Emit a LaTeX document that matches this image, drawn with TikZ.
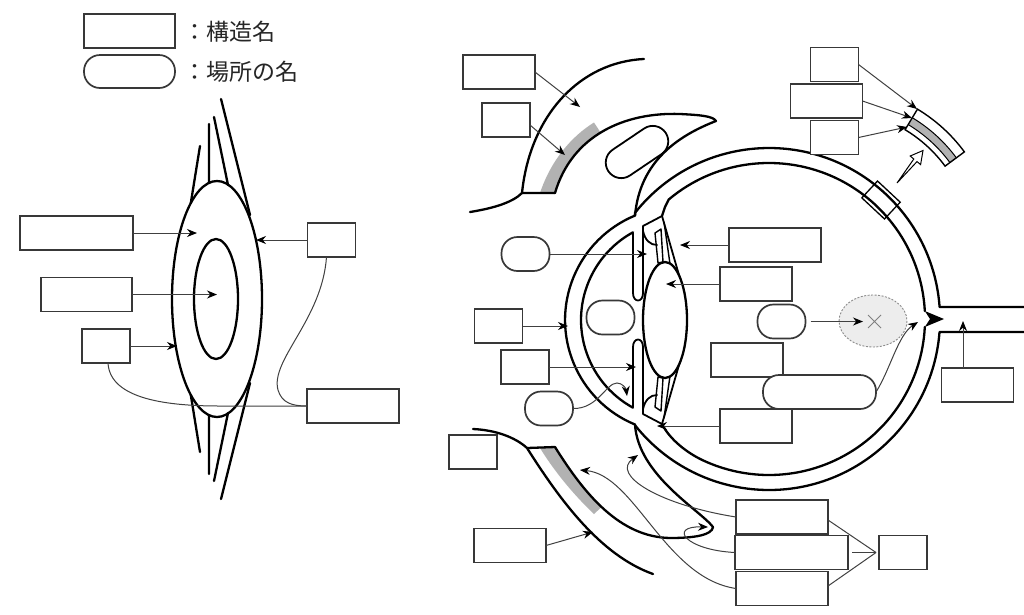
\documentclass[tikz,border=0pt]{standalone}
\usepackage{fontspec}
\newfontfamily\jpfont{Noto Sans CJK JP}
\usetikzlibrary{arrows.meta,calc}
\newcommand\myciliary{%
  \draw[med] (633,233) -- (633,293) .. controls (633,303) and (643,303) .. (643,293) -- (643,226) -- (662,216);
  \draw[med] (643,231) .. controls (645,240) and (650,245) .. (657,245);
  \draw[med,line width=1.4pt] (655,233) -- (661,229) -- (663,262) -- (658,263) -- cycle;
  \draw[med,line width=1.4pt] (664,222) -- (670,264);
  \draw[med] (662,216) -- (685,296);
}
\begin{document}
\begin{tikzpicture}[x=1pt,y=-1pt,
  thk/.style={line width=2.3pt,draw=black,line cap=round,line join=round},
  med/.style={line width=1.8pt,draw=black,line cap=round,line join=round},
  conn/.style={line width=1pt,draw=black!75},
  arr/.style={conn,-{Stealth[length=10pt,width=8pt,color=black]}},
  box/.style={draw=black!78,line width=1.7pt,fill=white,inner sep=0pt,outer sep=0pt,minimum height=34pt},
  rbox/.style={box,rounded corners=16pt},
  sm/.style={box,minimum width=48pt},
  md/.style={box,minimum width=72pt},
  lg/.style={box,minimum width=92pt},
  xl/.style={box,minimum width=113pt},
  jp/.style={font=\jpfont\fontsize{23pt}{23pt}\selectfont,inner sep=0pt,text=black!85},
]
\fill[white] (0,0) rectangle (1024,614);
\useasboundingbox (0,0) rectangle (1024,614);

% ---------- legend ----------
\node[box,minimum width=91pt] (leg1) at (129.5,31) {};
\node[rbox,minimum width=91pt,minimum height=33pt] (leg2) at (129.5,71.5) {};
\node[jp,anchor=west] (t1) at (183,32) {：構造名};
\node[jp,anchor=west] (t2) at (183,72) {：場所の名};

% ---------- left lens diagram ----------
\draw[thk] (217,299) ellipse[x radius=45,y radius=118];
\draw[thk] (216,299) ellipse[x radius=22,y radius=60];
\draw[thk] (200,146) -- (190.8,203) (209,124) -- (209,183) (214,117) -- (228,185) (221,99) -- (250,215);
\draw[thk] (200,452) -- (190.8,395) (209,474) -- (209,415) (214,481) -- (228,413) (221,499) -- (250,383);

\node[box,minimum width=113pt] (L1) at (76.5,233) {};
\node[box,minimum width=91pt] (L2) at (86.5,294.5) {};
\node[sm] (L3) at (106,346) {};
\node[sm] (L4) at (331.5,240) {};
\node[lg] (L5) at (353,406) {};
\coordinate (la1) at (197,233);
\coordinate (la2) at (217,294.5);
\coordinate (la3) at (177,346);
\coordinate (la4) at (256,240);
\draw[arr] (L1.east) -- (la1);
\draw[arr] (L2.east) -- (la2);
\draw[arr] (L3.east) -- (la3);
\draw[arr] (L4.west) -- (la4);
\draw[conn] ([xshift=-5pt]L4.south) .. controls (322,320) and (270,360) .. (278,390) .. controls (282,403) and (292,406) .. (L5.west);
\draw[conn] ([xshift=2pt]L3.south) .. controls (110,400) and (170,406) .. (220,406) -- (L5.west);

% ---------- eyelids ----------
\fill[black!30] (540,193) -- (555,193) .. controls (563.2,165.2) and (579.6,145.4) .. (600.6,132.6) -- (594,122.5) .. controls (572,136) and (551,160) .. (540,193) -- cycle;
\fill[black!30] (540,448) -- (555,447) .. controls (569.1,469.6) and (584.35,490.7) .. (601.6,506.9) -- (594,514) .. controls (576,497) and (556,474) .. (540,448) -- cycle;

\draw[thk] (644,59) .. controls (580,62) and (530,115) .. (522,193);
\draw[thk] (470,212) .. controls (495,208) and (513,202) .. (522,193) -- (555,193);
\draw[thk] (555,193) .. controls (572,135) and (625,112) .. (680,114) .. controls (700,115) and (713,116) .. (716,121) .. controls (680,135) and (640,160) .. (635,215.5);
\node[draw,med,minimum width=69pt,minimum height=31pt,rounded corners=15.5pt,rotate=34,inner sep=0pt] (gland) at (637,152) {};

\draw[thk] (473,429) .. controls (495,430) and (515,437) .. (527,448) -- (555,447);
\draw[thk] (527,448) .. controls (560,500) and (600,555) .. (653,574);
\draw[thk] (555,447) .. controls (585,495) and (620,537) .. (670,538) .. controls (695,538) and (712,535) .. (713,527) .. controls (700,510) and (638,475) .. (635,424.5);

% ---------- eyeball ----------
\draw[thk] (635,424.5) arc[start angle=112.4,end angle=247.6,radius=113] -- (635,212.8) arc[start angle=-141.6,end angle=-4.03,radius=171] -- (1024,307);
\draw[thk] (1024,332) -- (939.5,332) arc[start angle=4.36,end angle=141.6,radius=171];
\draw[thk] (633,407.7) arc[start angle=118.7,end angle=241.3,radius=100];
\draw[thk] (662,216) -- (665,207) -- (668.72,199.5) arc[start angle=-130,end angle=-2.94,radius=156];
\fill (924.8,311) -- (944,319) -- (924.8,327) -- (930,319) -- cycle;
\draw[thk] (924.8,327) arc[start angle=2.94,end angle=115,radius=156] .. controls (688,453.4) and (670,440) .. (662,424);

\myciliary
\begin{scope}[shift={(0,640)},yscale=-1]
\myciliary
\end{scope}
\draw[thk,fill=white] (665,320) ellipse[x radius=22,y radius=58];

% wall window
\node[draw,line width=1.3pt,minimum width=31pt,minimum height=23pt,rotate=-43,inner sep=0pt] (win) at (881,200) {};

% magnified wall piece
\coordinate (pc) at (834,248);
\fill[white] ($(pc)+(-59:162)$) arc[start angle=-59,end angle=-36.4,radius=162] -- ($(pc)+(-36.4:138)$) arc[start angle=-36.4,end angle=-59,radius=138] -- cycle;
\fill[black!30] ($(pc)+(-59:152)$) arc[start angle=-59,end angle=-36.4,radius=152] -- ($(pc)+(-36.4:144)$) arc[start angle=-36.4,end angle=-59,radius=144] -- cycle;
\draw[line width=1pt] ($(pc)+(-59:152)$) arc[start angle=-59,end angle=-36.4,radius=152];
\draw[line width=1pt] ($(pc)+(-59:144)$) arc[start angle=-59,end angle=-36.4,radius=144];
\draw[line width=1.4pt,line join=miter] ($(pc)+(-59:162)$) arc[start angle=-59,end angle=-36.4,radius=162] -- ($(pc)+(-36.4:138)$) arc[start angle=-36.4,end angle=-59,radius=138] -- cycle;
% hollow arrow
\draw[line width=1pt,fill=white,line join=miter] (897,183) -- (913.8,159) -- (910.2,156) -- (923,150.5) -- (920.6,164.6) -- (917,161.6) -- cycle;

% fovea
\draw[draw=black!45,dash pattern=on 2pt off 1.5pt,line width=0.9pt,fill=black!7] (873,321) ellipse[x radius=34,y radius=26];
\draw[black!50,line width=0.8pt] (868,315) -- (881,328) (868,328) -- (881,315);

% ---------- boxes around eye ----------
\node[md] (A) at (499,72) {};
\node[sm] (B) at (506,120) {};
\node[sm] (G1) at (834.5,64.5) {};
\node[md] (G2) at (826.5,101) {};
\node[sm] (G3) at (834.5,137.5) {};
\node[rbox,minimum width=48pt] (R1) at (525.5,254) {};
\node[sm] (K1) at (498.5,326) {};
\node[sm] (K2) at (525,367) {};
\node[rbox,minimum width=48pt] (R3) at (549,408.5) {};
\node[rbox,minimum width=48pt] (R2) at (610.5,317.5) {};
\node[lg] (I1) at (775,245) {};
\node[md] (I2) at (756,284) {};
\node[rbox,minimum width=48pt] (R4) at (781.5,321.5) {};
\node[md] (I3) at (747,360) {};
\node[rbox,minimum width=113pt] (R5) at (819.5,392) {};
\node[md] (I4) at (756,426) {};
\node[md] (N) at (977.5,385) {};
\node[sm] (C) at (473,452) {};
\node[md] (D) at (510,545.5) {};
\node[lg] (E1) at (782,517) {};
\node[xl] (E2) at (791.5,552.5) {};
\node[lg] (E3) at (782,588.5) {};
\node[sm] (F) at (903,552.5) {};

% ---------- connectors ----------
\coordinate (tA) at (580,107);
\coordinate (tB) at (565,155);
\coordinate (tG1) at (917,109);
\coordinate (tG2) at (912,118);
\coordinate (tG3) at (907,127);
\coordinate (tR1) at (647,254);
\coordinate (tK1) at (568,326);
\coordinate (tK2) at (636,367);
\coordinate (tR3) at (627,396);
\coordinate (tI1) at (680,245);
\coordinate (tI2) at (666,284);
\coordinate (tR4) at (863,321.5);
\coordinate (tR5) at (918,322);
\coordinate (tI4) at (657,426);
\coordinate (tN) at (963,321);
\coordinate (tD) at (593,532);
\coordinate (tE1) at (638,455);
\coordinate (tE2) at (708,527);
\coordinate (tE3) at (580,470);
\coordinate (fj) at (876,552.5);

\draw[arr] (A.east) -- (tA);
\draw[arr] ([yshift=-5pt]B.east) -- (tB);
\draw[arr] (G1.east) -- (tG1);
\draw[arr] (G2.east) -- (tG2);
\draw[arr] (G3.east) -- (tG3);
\draw[arr] (R1.east) -- (tR1);
\draw[arr] (K1.east) -- (tK1);
\draw[arr] (K2.east) -- (tK2);
\draw[arr] (R3.east) .. controls (598,409) and (606,383) .. (617,383) .. controls (622,383) and (626,388) .. (tR3);
\draw[arr] (I1.west) -- (tI1);
\draw[arr] (I2.west) -- (tI2);
\draw[arr] ([xshift=5pt]R4.east) -- (tR4);
\draw[arr] (R5.east) .. controls (890,370) and (898,335) .. (tR5);
\draw[arr] (I4.west) -- (tI4);
\draw[arr] ([xshift=-14.5pt]N.north) -- (tN);
\draw[arr] (D.east) -- (tD);
\draw[arr] (E1.west) .. controls (660,505) and (610,475) .. (tE1);
\draw[arr] (E2.west) .. controls (685,550) and (668,526) .. (tE2);
\draw[arr] (E3.west) .. controls (665,578) and (635,475) .. (tE3);
\draw[conn] (fj) -- ([yshift=-3pt]E1.east);
\draw[conn] (fj) -- ([xshift=4pt]E2.east);
\draw[conn] (fj) -- ([yshift=2.5pt]E3.east);
\end{tikzpicture}
\end{document}
